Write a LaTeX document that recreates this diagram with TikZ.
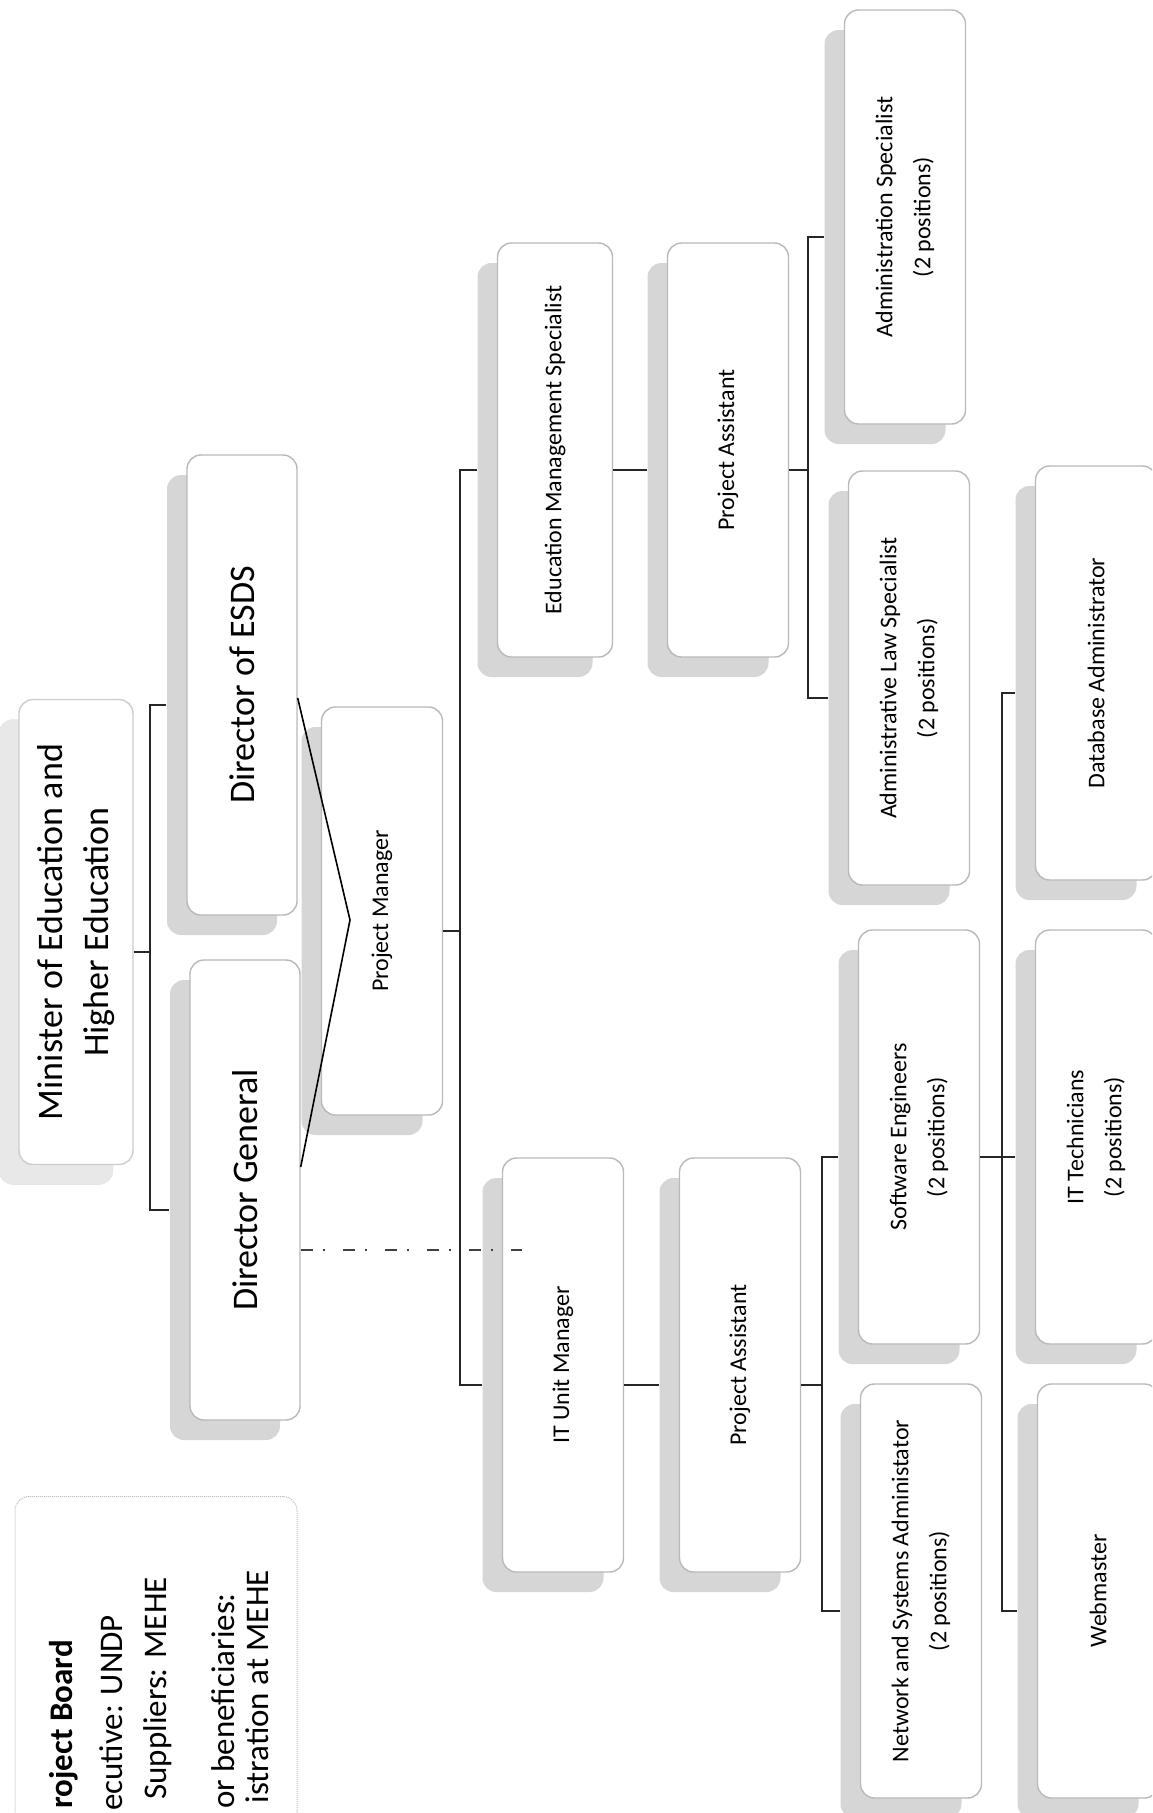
\documentclass[tikz,border=0pt]{standalone}
\usepackage{fontspec}
\setmainfont{Carlito}
\usetikzlibrary{shadows, calc}

\begin{document}
\begin{tikzpicture}[x=1pt, y=-1pt,
  box/.style={draw=gray!55, line width=1.4pt, rounded corners=14pt, fill=white,
    rotate=90, align=center, inner sep=0pt,
    general shadow={fill=gray!32, shadow xshift=-20pt, shadow yshift=-20pt}},
  headbox/.style={box, font=\fontsize{36}{46}\selectfont,
    minimum width=460pt, minimum height=110pt},
  postbox/.style={box, font=\fontsize{24}{38}\selectfont,
    minimum width=414pt, minimum height=121pt},
  boardline/.style={rotate=90, anchor=base east, inner sep=0pt,
    font=\fontsize{33}{40}\selectfont},
  linkline/.style={draw=black!85, line width=2.4pt},
  dashlink/.style={draw=black!75, line width=1.5pt,
    dash pattern=on 12pt off 10pt on 2pt off 18pt},
]
\useasboundingbox (0,0) rectangle (1152,1813);
\clip (0,0) rectangle (1152,1813);
\fill[white] (0,0) rectangle (1152,1813);

% project board (cut by the page)
\node[draw=gray!50, densely dotted, line width=1pt, rounded corners=14pt,
  minimum width=282pt, minimum height=403pt, inner sep=0pt] (board) at (156,1698) {};
\node[boardline] (pbtitle) at (72,1640) {\textbf{roject Board}};
\node[boardline] (pbexec) at (122,1615) {ecutive: UNDP};
\node[boardline] (pbsupp) at (166,1577) {Suppliers: MEHE};
\node[boardline] (pbbenef) at (234,1593) {or beneficiaries:};
\node[boardline] (pbadmin) at (268,1570) {istration at MEHE};

% top levels
\node[headbox, draw=gray!40, minimum width=465pt, minimum height=114pt,
  general shadow={fill=gray!18, shadow xshift=-20pt, shadow yshift=-20pt}]
  (minister) at (76,932) {Minister of Education and\\Higher Education};
\node[headbox] (esds) at (242,685) {Director of ESDS};
\node[headbox] (dg) at (245,1190) {Director General};
\node[postbox, minimum width=408pt] (pm) at (382,911) {Project Manager};

% units
\node[postbox, minimum height=115pt] (ems) at (555,450) {Education Management Specialist};
\node[postbox] (pa1) at (728,450) {Project Assistant};
\node[postbox] (itum) at (563,1365) {IT Unit Manager};
\node[postbox] (pa2) at (740,1365) {Project Assistant};
\node[postbox] (adsp) at (905,217) {Administration Specialist\\(2 positions)};
\node[postbox] (als) at (909,678) {Administrative Law Specialist\\(2 positions)};
\node[postbox] (swe) at (919,1137) {Software Engineers\\(2 positions)};
\node[postbox] (nsa) at (921,1591) {Network and Systems Administator\\(2 positions)};
\node[postbox] (dba) at (1096,673) {Database Administrator};
\node[postbox] (itt) at (1096,1137) {IT Technicians\\(2 positions)};
\node[postbox] (web) at (1098,1591) {Webmaster};

% bars
\coordinate (b1) at (150,952);
\coordinate (b2) at (460,931);
\coordinate (b3) at (808,470);
\coordinate (b4) at (822,1385);
\coordinate (b5) at (1002,1157);
\coordinate (pmtip) at (350,920);
\coordinate (itdot) at (522,1250);

\draw[linkline] ([yshift=-20pt]minister.south) -- (b1);
\draw[linkline] ([xshift=-20pt,yshift=-20pt]esds.north) -| (b1)
  |- ([xshift=-20pt,yshift=-20pt]dg.north);
\draw[black, line width=1.6pt] ([yshift=-13pt]esds.south) -- (pmtip)
  -- ([yshift=23pt]dg.south);
\draw[dashlink] (dg.south |- itdot) -- (itdot);

\draw[linkline] ([yshift=-20pt]pm.south) -- (b2);
\draw[linkline] ([xshift=-20pt,yshift=-20pt]ems.north) -| (b2)
  |- ([xshift=-20pt,yshift=-20pt]itum.north);
\draw[linkline] ([yshift=-20pt]ems.south) -- ([xshift=-20pt,yshift=-20pt]pa1.north);
\draw[linkline] ([yshift=-20pt]itum.south) -- ([xshift=-20pt,yshift=-20pt]pa2.north);

\draw[linkline] ([yshift=-20pt]pa1.south) -- (b3);
\draw[linkline] ([xshift=-20pt,yshift=-20pt]adsp.north) -| (b3)
  |- ([xshift=-20pt,yshift=-20pt]als.north);
\draw[linkline] ([yshift=-20pt]pa2.south) -- (b4);
\draw[linkline] ([xshift=-20pt,yshift=-20pt]swe.north) -| (b4)
  |- ([xshift=-20pt,yshift=-20pt]nsa.north);

\draw[linkline] ([yshift=-20pt]swe.south) -- (b5);
\draw[linkline] ([xshift=-20pt,yshift=-20pt]dba.north) -| (b5)
  |- ([xshift=-20pt,yshift=-20pt]web.north);
\draw[linkline] (b5) -- ([xshift=-20pt,yshift=-20pt]itt.north);
\end{tikzpicture}
\end{document}
